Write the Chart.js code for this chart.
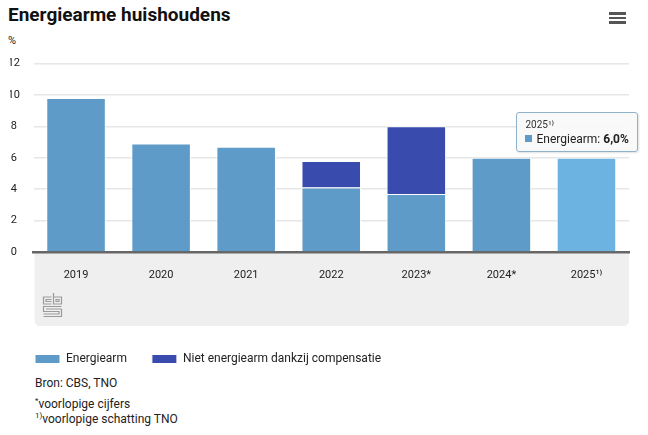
<!DOCTYPE html>
<html>
<head>
<meta charset="utf-8">
<script src="https://cdn.jsdelivr.net/npm/chart.js@4.4.1/dist/chart.umd.min.js"></script>
<style>
  body { margin: 0; width: 648px; height: 435px; background: #fff; position: relative; overflow: hidden;
         font-family: Roboto, "Open Sans", sans-serif; color: #222; }
  #title { position: absolute; left: 8px; top: 3px; font-size: 19px; font-weight: bold; color: #111; }
  #unit { position: absolute; left: 8px; top: 34px; font-size: 11px; }
  #menu { position: absolute; left: 609px; top: 12px; width: 17px; }
  #menu div { height: 2.5px; background: #555; margin-bottom: 2px; }
  #wrap { position: absolute; left: 0; top: 0; width: 648px; height: 375px; }
  #notes { position: absolute; left: 35px; top: 376px; font-size: 12px; line-height: 15px; }
  #notes p { margin: 0 0 6px 0; }
  #notes sup { font-size: 8px; line-height: 0; }
  #tip { position: absolute; display: none; background: rgba(248,248,248,0.92); border: 1px solid #8fb2cc;
         border-radius: 3px; padding: 6px 8px 5px 8px; font-size: 12px; white-space: nowrap;
         box-shadow: 1px 1px 2px rgba(0,0,0,0.12); }
  #tip .tt { font-size: 10px; margin-bottom: 2px; color: #333; }
  #tip .sq { display: inline-block; width: 7px; height: 7px; background: #5f9bc8; margin-right: 4px; vertical-align: 1px; }
</style>
</head>
<body>
<div id="title">Energiearme huishoudens</div>
<div id="menu"><div></div><div></div><div></div></div>
<div id="unit">%</div>
<div id="wrap"><canvas id="chart"></canvas></div>
<div id="tip"></div>
<div id="notes">
  <p>Bron: CBS, TNO</p>
  <div><sup>*</sup>voorlopige cijfers</div>
  <div><sup>1)</sup>voorlopige schatting TNO</div>
</div>
<script>
// data
const years = ['2019', '2020', '2021', '2022', '2023*', '2024*', '2025¹⁾'];
const energiearm = [9.8, 6.9, 6.7, 4.1, 3.7, 6.0, 6.0];
const compensatie = [null, null, null, 1.7, 4.3, null, null];
const yTicks = [0, 2, 4, 6, 8, 10, 12];

const BLUE = '#5f9bc8';
const DARK = '#3a4bae';

const fmt = v => v.toFixed(1).replace('.', ',');

// grey band under the x axis plus the cbs logo
const bandPlugin = {
  id: 'band',
  beforeDraw(chart) {
    const { ctx, chartArea } = chart;
    const x = chartArea.left + 1, y = chartArea.bottom, w = chartArea.right - chartArea.left - 1, h = 74, r = 6;
    ctx.save();
    ctx.fillStyle = '#efefef';
    ctx.beginPath();
    ctx.moveTo(x, y);
    ctx.lineTo(x + w, y);
    ctx.lineTo(x + w, y + h - r);
    ctx.quadraticCurveTo(x + w, y + h, x + w - r, y + h);
    ctx.lineTo(x + r, y + h);
    ctx.quadraticCurveTo(x, y + h, x, y + h - r);
    ctx.closePath();
    ctx.fill();

    // rough cbs logo
    ctx.translate(43, y + 41);
    ctx.strokeStyle = '#9b9b9b';
    ctx.lineWidth = 1.2;
    ctx.beginPath();
    ctx.moveTo(8.5, 4); ctx.lineTo(0.5, 4); ctx.lineTo(0.5, 11); ctx.lineTo(8.5, 11);
    ctx.moveTo(8.5, 6.5); ctx.lineTo(3, 6.5); ctx.lineTo(3, 8.5); ctx.lineTo(8.5, 8.5);
    ctx.moveTo(10.5, 0); ctx.lineTo(10.5, 11); ctx.lineTo(18.5, 11); ctx.lineTo(18.5, 4); ctx.lineTo(10.5, 4);
    ctx.rect(13, 6.5, 3, 2);
    ctx.moveTo(18.5, 13.5); ctx.lineTo(0.5, 13.5); ctx.lineTo(0.5, 18.5); ctx.lineTo(16, 18.5); ctx.lineTo(16, 21); ctx.lineTo(0.5, 21);
    ctx.moveTo(18.5, 16); ctx.lineTo(3, 16); ctx.moveTo(18.5, 16); ctx.lineTo(18.5, 23.5); ctx.lineTo(0.5, 23.5);
    ctx.stroke();
    ctx.restore();
  }
};

const chart = new Chart(document.getElementById('chart'), {
  type: 'bar',
  data: {
    labels: years,
    datasets: [
      { label: 'Energiearm', data: energiearm, backgroundColor: BLUE, hoverBackgroundColor: '#6db3e2',
        borderColor: '#fff', borderWidth: 1, hoverBorderColor: '#fff' },
      { label: 'Niet energiearm dankzij compensatie', data: compensatie, backgroundColor: DARK,
        hoverBackgroundColor: DARK, borderColor: '#fff', borderWidth: 1, hoverBorderColor: '#fff' }
    ]
  },
  options: {
    responsive: true,
    maintainAspectRatio: false,
    animation: false,
    events: [],
    layout: { padding: { top: 63.5, left: 10, right: 19, bottom: 0 } },
    datasets: { bar: { categoryPercentage: 1, barPercentage: 0.7 } },
    plugins: {
      legend: {
        position: 'bottom',
        align: 'start',
        labels: { boxWidth: 25, boxHeight: 9, padding: 25, color: '#222',
                  font: { family: 'Roboto', size: 12 } }
      },
      tooltip: {
        enabled: false,
        external({ tooltip }) {
          const el = document.getElementById('tip');
          if (tooltip.opacity === 0 || !tooltip.dataPoints) { el.style.display = 'none'; return; }
          const dp = tooltip.dataPoints[0];
          el.innerHTML = '<div class="tt">' + dp.label + '</div><div><span class="sq"></span>' +
            dp.dataset.label + ': <b>' + fmt(dp.raw) + '%</b></div>';
          el.style.display = 'block';
          el.style.left = (tooltip.caretX - 70) + 'px';
          el.style.top = (tooltip.caretY - 46) + 'px';
        }
      }
    },
    scales: {
      x: {
        stacked: true,
        grid: { display: false },
        border: { display: true, color: '#666', width: 2.5 },
        ticks: { color: '#222', padding: 9, font: { family: 'Roboto', size: 11 } },
        afterFit(scale) { scale.height = 76; }
      },
      y: {
        stacked: true,
        min: 0, max: 12,
        afterBuildTicks(scale) { scale.ticks = yTicks.map(v => ({ value: v })); },
        grid: { color: ctx => ctx.tick && ctx.tick.value === 0 ? 'rgba(0,0,0,0)' : '#e6e6e6',
                lineWidth: 1.5, drawTicks: false },
        border: { display: false },
        ticks: { color: '#222', padding: 13.5, crossAlign: 'center', font: { family: 'Roboto', size: 11 } },
        afterFit(scale) { scale.width = 23.5; }
      }
    }
  },
  plugins: [bandPlugin]
});

// 2025 shown in its hovered state, as in the picture
const active = [{ datasetIndex: 0, index: 6 }];
chart.setActiveElements(active);
chart.tooltip.setActiveElements(active, { x: 586, y: 156 });
chart.update();
</script>
</body>
</html>
